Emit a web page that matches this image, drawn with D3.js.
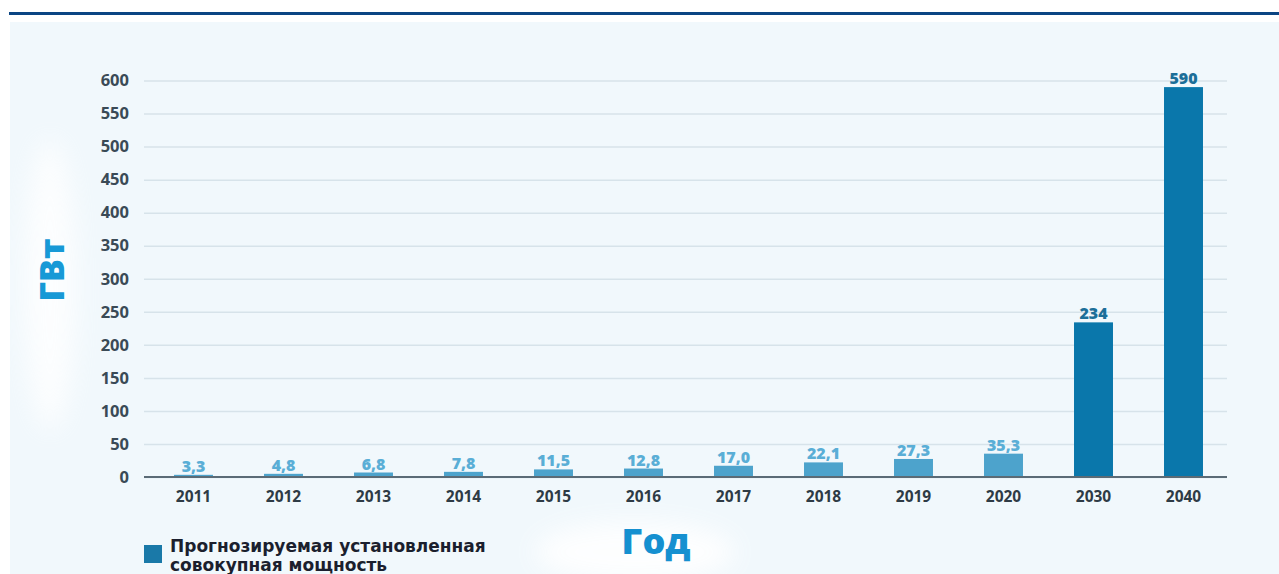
<!DOCTYPE html>
<html>
<head>
<meta charset="utf-8">
<script src="https://cdn.jsdelivr.net/npm/d3@7"></script>
<style>
  body { margin: 0; background: #fff; }
  svg { display: block; }
</style>
</head>
<body>
<div id="chart"></div>
<script>
const YEARS = ['2011', '2012', '2013', '2014', '2015', '2016', '2017', '2018', '2019', '2020', '2030', '2040'];
const CAPACITY = [3.3, 4.8, 6.8, 7.8, 11.5, 12.8, 17.0, 22.1, 27.3, 35.3, 234, 590];
const IS_FORECAST = [false, false, false, false, false, false, false, false, false, false, true, true];
const Y_TICKS = [0, 50, 100, 150, 200, 250, 300, 350, 400, 450, 500, 550, 600];
const Y_TITLE = 'ГВт';
const X_TITLE = 'Год';
const LEGEND_LINES = ['Прогнозируемая установленная', 'совокупная мощность'];

const WIDTH = 1279, HEIGHT = 574;
const FONT = '"Open Sans", Lato, sans-serif';

const data = YEARS.map((y, i) => ({year: y, value: CAPACITY[i], forecast: IS_FORECAST[i]}));

const svg = d3.select('#chart')
  .append('svg')
    .attr('width', WIDTH)
    .attr('height', HEIGHT);

const defs = svg.append('defs');
defs.append('filter')
    .attr('id', 'blur')
    .attr('x', '-50%').attr('y', '-50%').attr('width', '200%').attr('height', '200%')
  .append('feGaussianBlur')
    .attr('stdDeviation', 12);

// top rule and panel
svg.append('rect')
  .attr('x', 9).attr('y', 12).attr('width', WIDTH - 9).attr('height', 3)
  .attr('fill', '#0b4583');

svg.append('rect')
  .attr('x', 10).attr('y', 22).attr('width', WIDTH - 10).attr('height', HEIGHT - 22)
  .attr('fill', '#f1f8fc');

// soft highlights behind titles
svg.append('ellipse')
  .attr('cx', 50).attr('cy', 285).attr('rx', 26).attr('ry', 145)
  .attr('fill', '#ffffff').attr('opacity', 0.8)
  .attr('filter', 'url(#blur)');
svg.append('ellipse')
  .attr('cx', 635).attr('cy', 552).attr('rx', 100).attr('ry', 30)
  .attr('fill', '#ffffff').attr('opacity', 0.9)
  .attr('filter', 'url(#blur)');

const x = d3.scaleBand()
  .domain(YEARS)
  .range([148.5, 1228.5])
  .paddingInner(0.567)
  .paddingOuter(0.2835);

const y = d3.scaleLinear()
  .domain([0, 600])
  .range([477, 80.5]);

// gridlines
const grid = svg.append('g')
  .attr('transform', 'translate(144,0)')
  .call(d3.axisLeft(y).tickValues(Y_TICKS).tickSize(-(1227 - 144)).tickFormat(''));
grid.select('.domain').remove();
grid.selectAll('line')
  .attr('stroke', '#d7e3ea')
  .attr('stroke-width', 1.5);

// y tick labels
const yAxis = svg.append('g')
  .attr('transform', 'translate(129,0)')
  .call(d3.axisLeft(y).tickValues(Y_TICKS).tickSize(0).tickPadding(0));
yAxis.select('.domain').remove();
yAxis.selectAll('text')
  .attr('font-family', FONT)
  .attr('font-weight', 700)
  .attr('font-size', 16.5)
  .attr('fill', '#3a4a56');

// bars
svg.append('g')
  .selectAll('rect')
  .data(data)
  .join('rect')
    .attr('x', d => x(d.year))
    .attr('y', d => y(d.value))
    .attr('width', x.bandwidth())
    .attr('height', d => y(0) - y(d.value))
    .attr('fill', d => d.forecast ? '#0a77ab' : '#4da3cc');

// baseline
svg.append('line')
  .attr('x1', 144).attr('x2', 1227)
  .attr('y1', y(0)).attr('y2', y(0))
  .attr('stroke', '#5b6b76')
  .attr('stroke-width', 2);

// x axis labels
const xAxis = svg.append('g')
  .attr('transform', `translate(0,${y(0)})`)
  .call(d3.axisBottom(x).tickSize(0).tickPadding(14));
xAxis.select('.domain').remove();
xAxis.selectAll('text')
  .attr('font-family', FONT)
  .attr('font-weight', 700)
  .attr('font-size', 15.5)
  .attr('fill', '#2e3b45');

// value labels
svg.append('g')
  .selectAll('text')
  .data(data)
  .join('text')
    .attr('x', d => x(d.year) + x.bandwidth() / 2)
    .attr('y', d => y(d.value) - 3)
    .attr('text-anchor', 'middle')
    .attr('font-family', FONT)
    .attr('font-weight', 800)
    .attr('font-size', 16)
    .attr('fill', d => d.forecast ? '#1c6f99' : '#5aaed6')
    .text(d => d.forecast ? d3.format('d')(d.value) : d3.format('.1f')(d.value).replace('.', ','));

// axis titles
svg.append('text')
  .attr('transform', 'translate(64,270) rotate(-90)')
  .attr('text-anchor', 'middle')
  .attr('font-family', FONT)
  .attr('font-weight', 800)
  .attr('font-size', 34)
  .attr('fill', '#1799d6')
  .text(Y_TITLE);

svg.append('text')
  .attr('x', 656).attr('y', 554)
  .attr('text-anchor', 'middle')
  .attr('font-family', FONT)
  .attr('font-weight', 800)
  .attr('font-size', 36)
  .attr('fill', '#1590d0')
  .text(X_TITLE);

// legend
svg.append('rect')
  .attr('x', 144).attr('y', 545).attr('width', 18).attr('height', 18)
  .attr('fill', '#1a79a8');

svg.append('g')
  .selectAll('text')
  .data(LEGEND_LINES)
  .join('text')
    .attr('x', 170)
    .attr('y', (d, i) => 552 + i * 19)
    .attr('font-family', '"DejaVu Sans", Verdana, sans-serif')
    .attr('font-weight', 700)
    .attr('font-size', 17)
    .attr('fill', '#1b1f2e')
    .text(d => d);
</script>
</body>
</html>
